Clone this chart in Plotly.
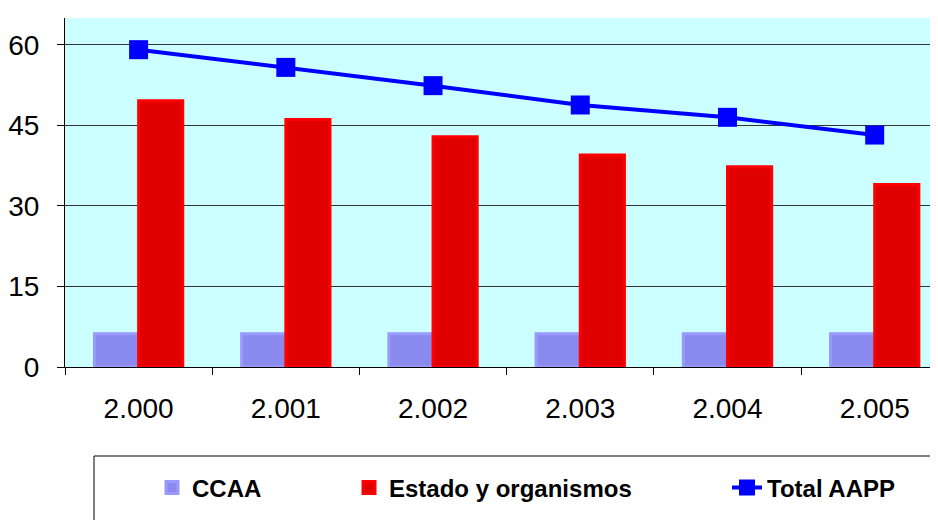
import plotly.graph_objects as go

years = ["2.000", "2.001", "2.002", "2.003", "2.004", "2.005"]
ccaa = [6.2, 6.2, 6.2, 6.2, 6.2, 6.2]
estado = [49.6, 46.1, 42.9, 39.5, 37.3, 34.0]
total = [59.1, 55.8, 52.4, 48.8, 46.5, 43.2]
y_ticks = [0, 15, 30, 45, 60]

FONT = "Arial, Liberation Sans, sans-serif"

fig = go.Figure()
fig.add_trace(go.Bar(
    x=years, y=ccaa, name="CCAA",
    marker=dict(color="#8A8AEE", line=dict(color="#9999FF", width=3)),
    legend="legend",
))
fig.add_trace(go.Bar(
    x=years, y=estado, name="Estado y organismos",
    marker=dict(color="#E00000", line=dict(color="#FF0000", width=3)),
    legend="legend2",
))
fig.add_trace(go.Scatter(
    x=years, y=total, name="Total AAPP", mode="lines+markers",
    line=dict(color="#0000FF", width=4),
    marker=dict(symbol="square", size=19, color="#0000FF"),
    legend="legend3",
))

# screen-pixel geometry of plot area (page body adds 8px offset)
PX_L, PX_R, PX_T, PX_B = 65.0, 938.0, 18.0, 367.0
def px2x(px):
    return (px - PX_L) / (PX_R - PX_L)
def px2y(py):
    return (PX_B - py) / (PX_B - PX_T)

leg_common = dict(
    orientation="h", yanchor="middle", y=px2y(488), xanchor="left",
    font=dict(family=FONT, size=24, color="black", weight="bold"),
    bgcolor="rgba(0,0,0,0)", borderwidth=0,
)

fig.update_layout(
    width=938, height=520,
    margin=dict(l=57, r=8, t=10, b=161, autoexpand=False),
    paper_bgcolor="white",
    plot_bgcolor="#CCFFFF",
    barmode="group",
    bargap=0.4,
    bargroupgap=0.0,
    showlegend=True,
    legend=dict(leg_common, x=px2x(152)),
    legend2=dict(leg_common, x=px2x(349)),
    legend3=dict(leg_common, x=px2x(727)),
    xaxis=dict(
        type="category",
        range=[-0.5, 5.43],
        showgrid=False,
        showline=True, linecolor="black", linewidth=1,
        ticks="outside", ticklen=7, tickcolor="black",
        tickson="boundaries",
        tickfont=dict(family=FONT, size=28, color="black"),
        ticklabelstandoff=16,
        automargin=False,
    ),
    yaxis=dict(
        range=[0, 65],
        tickvals=y_ticks,
        showgrid=True, gridcolor="#333333", gridwidth=1,
        showline=True, linecolor="black", linewidth=1,
        ticks="outside", ticklen=7, tickcolor="black",
        tickfont=dict(family=FONT, size=28, color="black"),
        ticklabelstandoff=12,
        zeroline=False,
        automargin=False,
    ),
    shapes=[dict(
        type="rect", xref="paper", yref="paper",
        x0=px2x(94), x1=px2x(935), y0=px2y(456), y1=px2y(560),
        line=dict(color="black", width=1), fillcolor="rgba(0,0,0,0)",
    )],
)

fig.write_html("out.html")
